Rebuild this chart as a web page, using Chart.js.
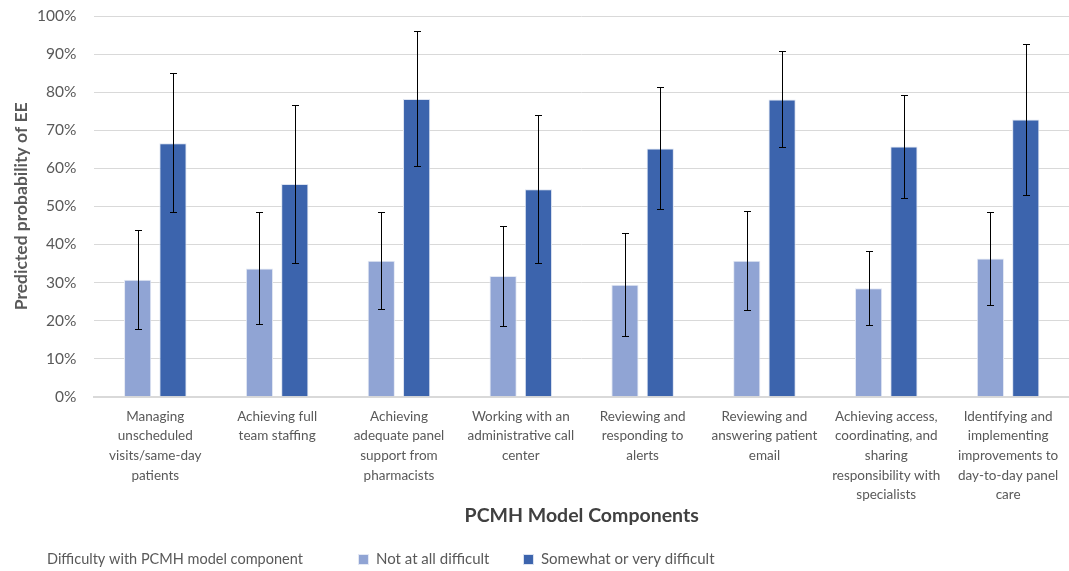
<!DOCTYPE html>
<html>
<head>
<meta charset="utf-8">
<title>Predicted probability of EE by PCMH model component</title>
<script src="https://cdn.jsdelivr.net/npm/chart.js@4/dist/chart.umd.min.js"></script>
<style>
  html, body { margin: 0; padding: 0; background: #fff; }
  #wrap { width: 1069px; height: 571px; }
</style>
</head>
<body>
<div id="wrap"><canvas id="eeChart" width="1069" height="571"></canvas></div>
<script>
/* ================================
   Data
================================ */
const categories = [
  ["Managing", "unscheduled", "visits/same-day", "patients"],
  ["Achieving full", "team staffing"],
  ["Achieving", "adequate panel", "support from", "pharmacists"],
  ["Working with an", "administrative call", "center"],
  ["Reviewing and", "responding to", "alerts"],
  ["Reviewing and", "answering patient", "email"],
  ["Achieving access,", "coordinating, and", "sharing", "responsibility with", "specialists"],
  ["Identifying and", "implementing", "improvements to", "day-to-day panel", "care"]
];

const notDifficult     = [30.7, 33.7, 35.7, 31.7, 29.4, 35.7, 28.5, 36.3];
const notDifficultLow  = [17.7, 19.2, 23.1, 18.6, 15.9, 22.7, 18.8, 24.1];
const notDifficultHigh = [43.8, 48.4, 48.4, 44.8, 43.0, 48.8, 38.4, 48.6];

const difficult     = [66.6, 55.9, 78.2, 54.5, 65.2, 78.1, 65.7, 72.8];
const difficultLow  = [48.6, 35.2, 60.6, 35.0, 49.2, 65.7, 52.3, 53.0];
const difficultHigh = [84.9, 76.7, 96.1, 74.1, 81.3, 90.8, 79.2, 92.6];

const yTicks = [0, 10, 20, 30, 40, 50, 60, 70, 80, 90, 100];

const errorRanges = [
  { low: notDifficultLow, high: notDifficultHigh },
  { low: difficultLow, high: difficultHigh }
];

/* ================================
   Plugins
================================ */
// draws the CI whiskers from the low/high arrays
const errorBarPlugin = {
  id: "errorBars",
  afterDatasetsDraw(chart) {
    const ctx = chart.ctx;
    const yScale = chart.scales.y;
    ctx.save();
    ctx.strokeStyle = "#000";
    ctx.lineWidth = 1;
    chart.data.datasets.forEach((ds, i) => {
      const meta = chart.getDatasetMeta(i);
      const range = errorRanges[i];
      meta.data.forEach((bar, j) => {
        const x = Math.round(bar.x) + 0.5;
        const yHi = Math.round(yScale.getPixelForValue(range.high[j])) + 0.5;
        const yLo = Math.round(yScale.getPixelForValue(range.low[j])) + 0.5;
        ctx.beginPath();
        ctx.moveTo(x, yHi);
        ctx.lineTo(x, yLo);
        ctx.moveTo(x - 3.5, yHi);
        ctx.lineTo(x + 3.5, yHi);
        ctx.moveTo(x - 3.5, yLo);
        ctx.lineTo(x + 3.5, yLo);
        ctx.stroke();
      });
    });
    ctx.restore();
  }
};

// left-hand caption next to the legend
const legendCaption = {
  id: "legendCaption",
  afterDraw(chart) {
    const lg = chart.legend;
    if (!lg || !lg.legendHitBoxes.length) return;
    const box = lg.legendHitBoxes[0];
    const ctx = chart.ctx;
    ctx.save();
    ctx.font = "14.5px Lato, sans-serif";
    ctx.fillStyle = "#595959";
    ctx.textBaseline = "middle";
    ctx.textAlign = "left";
    ctx.fillText("Difficulty with PCMH model component", 47, box.top + box.height / 2);
    ctx.restore();
  }
};

/* ================================
   Chart
================================ */
const ctx = document.getElementById("eeChart");

new Chart(ctx, {
  type: "bar",
  data: {
    labels: categories,
    datasets: [
      {
        label: "Not at all difficult",
        data: notDifficult,
        backgroundColor: "#90A4D4",
        borderColor: "#E4E9F4",
        borderWidth: 1
      },
      {
        label: "Somewhat or very difficult",
        data: difficult,
        backgroundColor: "#3C64AD",
        borderColor: "#DCE3F1",
        borderWidth: 1
      }
    ]
  },
  options: {
    responsive: false,
    animation: false,
    layout: { padding: { top: 0, right: 0, left: 4, bottom: -6 } },
    datasets: {
      bar: { categoryPercentage: 0.58, barPercentage: 0.77 }
    },
    plugins: {
      tooltip: { enabled: false },
      legend: {
        position: "bottom",
        align: "center",
        labels: {
          font: { family: "Lato, sans-serif", size: 15 },
          color: "#595959",
          boxWidth: 10,
          boxHeight: 10,
          padding: 34
        }
      }
    },
    scales: {
      x: {
        grid: { display: false, drawTicks: false },
        border: { display: true, color: "#D9D9D9", width: 2 },
        ticks: {
          autoSkip: false,
          maxRotation: 0,
          minRotation: 0,
          padding: 10,
          color: "#595959",
          font: { family: "Lato, sans-serif", size: 13.5, lineHeight: 1.45 }
        },
        title: {
          display: true,
          text: "PCMH Model Components",
          color: "#404040",
          font: { family: "Lato, sans-serif", size: 19.5, weight: "bold" },
          padding: { top: -11, bottom: -9 }
        }
      },
      y: {
        min: 0,
        max: 100,
        afterBuildTicks(axis) {
          axis.ticks = yTicks.map(v => ({ value: v }));
        },
        // tick padding would otherwise push the top of the plot down
        afterFit(axis) {
          axis.paddingTop = 16;
          axis.paddingBottom = 10;
        },
        grid: { color: "#D9D9D9", lineWidth: 1, drawTicks: false },
        border: { display: false },
        ticks: {
          padding: 18,
          color: "#595959",
          font: { family: "Lato, sans-serif", size: 15.5 },
          callback: v => v + "%"
        },
        title: {
          display: true,
          text: "Predicted probability of EE",
          color: "#595959",
          font: { family: "Lato, sans-serif", size: 17.5, weight: "bold" },
          padding: { top: 7, bottom: -13 }
        }
      }
    }
  },
  plugins: [errorBarPlugin, legendCaption]
});
</script>
</body>
</html>
